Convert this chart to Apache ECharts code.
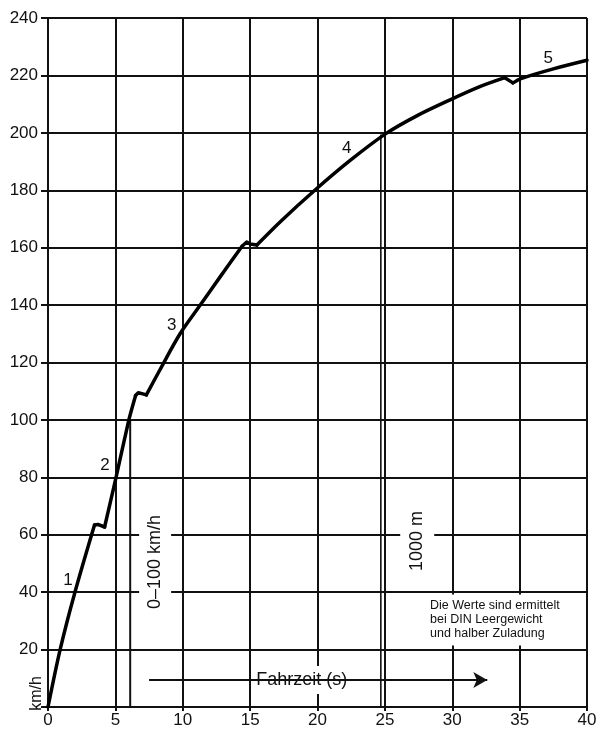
<!DOCTYPE html>
<html>
<head>
<meta charset="utf-8"/>
<title>Fahrzeit</title>
<script src="https://cdn.jsdelivr.net/npm/echarts@6/dist/echarts.min.js"></script>
<style>
    html, body { margin: 0; padding: 0; background: #fff; }
    #main { width: 601px; height: 732px; }
</style>
</head>
<body>
<div id="main"></div>
<script type="text/javascript">
// Beschleunigungskurve je Gang, [Zeit (s), Geschwindigkeit (km/h)]
const gear1 = [[0, 0], [0.9, 20], [2.0, 40], [3.45, 63.4]]
const shift1 = [[3.45, 63.4], [3.7, 63.6], [4.2, 62.7]]
const gear2 = [[4.2, 62.7], [5.05, 80], [6.0, 100], [6.5, 108.5]]
const shift2 = [[6.5, 108.5], [6.7, 109.5], [7.3, 108.7]]
const gear3 = [[7.3, 108.7], [8.3, 117.4], [9.8, 130], [11.3, 140], [12.8, 150], [14.4, 160.5]]
const shift3 = [[14.4, 160.5], [14.75, 162], [15.0, 161.3], [15.5, 160.9]]
const gear4 = [[15.5, 160.9], [17.3, 169.3], [19.8, 180], [22.4, 190.3], [25.1, 199.8], [27.4, 206], [29.8, 211.4], [32.0, 216], [33.9, 219.2]]
const shift4 = [[33.9, 219.2], [34.5, 217.4]]
const gear5 = [[34.5, 217.4], [35.1, 218.9], [37.5, 222.3], [40, 225.3]]

const xTicks = [0, 5, 10, 15, 20, 25, 30, 35, 40]
const yTicks = [0, 20, 40, 60, 80, 100, 120, 140, 160, 180, 200, 220, 240]

// 0-100 km/h und 1000 m Markierungen
const line100 = [[6.1, 0], [6.1, 100]]
const line1000 = [[24.7, 0], [24.7, 199.4]]

// Gangnummern an der Kurve
const gearNames = ['1', '2', '3', '4', '5']
const gearX = [1.48, 4.23, 9.18, 22.17, 37.13]
const gearY = [44.2, 84.3, 133, 194.6, 226]

const arrowFrom = [7.5, 9.4]
const arrowTo = [32.6, 9.4]

const noteText = 'Die Werte sind ermittelt\nbei DIN Leergewicht\nund halber Zuladung'

const font = 'Liberation Sans'
const ink = '#111'

const myChart = echarts.init(document.getElementById('main'))

const gears = gearNames.map((n, i) => ({ value: [gearX[i], gearY[i]], label: { formatter: n } }))

function curvePart(data, smooth) {
    return {
        type: 'line',
        data: data,
        symbol: 'none',
        smooth: smooth,
        z: 7,
        lineStyle: { color: '#000', width: 3.5, join: 'round', cap: 'round' }
    }
}

const option = {
    backgroundColor: '#fff',
    animation: false,
    grid: { left: 48, right: 14, top: 18, bottom: 25 },
    xAxis: {
        type: 'value',
        min: xTicks[0],
        max: xTicks[xTicks.length - 1],
        interval: 5,
        axisLine: { show: true, lineStyle: { color: ink, width: 2 } },
        axisTick: { show: true, length: 4, lineStyle: { color: ink, width: 2 } },
        axisLabel: { color: ink, fontFamily: font, fontSize: 17, margin: 5 },
        splitLine: { show: true, lineStyle: { color: ink, width: 2 } }
    },
    yAxis: {
        type: 'value',
        min: yTicks[0],
        max: yTicks[yTicks.length - 1],
        interval: 20,
        axisLine: { show: true, lineStyle: { color: ink, width: 2 } },
        axisTick: { show: true, length: 7, lineStyle: { color: ink, width: 2 } },
        // bei 0 steht "km/h" statt einer Zahl
        axisLabel: { color: ink, fontFamily: font, fontSize: 17, margin: 10, formatter: v => (v === 0 ? '' : v) },
        splitLine: { show: true, lineStyle: { color: ink, width: 2 } }
    },
    series: [
        // Textfelder zuerst, damit die Linien darueber liegen
        {
            type: 'scatter',
            symbolSize: 0,
            clip: false,
            z: 3,
            silent: true,
            itemStyle: { opacity: 1 },
            label: { show: true, position: 'inside', color: ink, fontFamily: font },
            data: [
                {
                    value: [7.95, 50.5],
                    label: { formatter: '0–100 km/h', rotate: 90, fontSize: 18, backgroundColor: '#fff', padding: [7, 2] }
                },
                {
                    value: [27.4, 57.8],
                    label: { formatter: '1000 m', rotate: 90, fontSize: 18, backgroundColor: '#fff', padding: [8, 2] }
                },
                {
                    value: [18.83, 9.4],
                    label: { formatter: 'Fahrzeit (s)', fontSize: 18, backgroundColor: '#fff', padding: [5, 3] }
                },
                {
                    value: [-0.85, 4.7],
                    label: { formatter: 'km/h', rotate: 90, fontSize: 16 }
                },
                {
                    value: [28.35, 30.3],
                    label: {
                        formatter: noteText, align: 'left', fontSize: 12.5, lineHeight: 14,
                        backgroundColor: '#fff', padding: [5, 4, 4, 0]
                    }
                }
            ]
        },
        {
            type: 'scatter',
            symbolSize: 0,
            z: 4,
            silent: true,
            itemStyle: { opacity: 1 },
            label: { show: true, position: 'inside', color: ink, fontFamily: font, fontSize: 17 },
            data: gears
        },
        {
            type: 'line',
            data: line100,
            symbol: 'none',
            z: 6,
            lineStyle: { color: ink, width: 2 }
        },
        {
            type: 'line',
            data: line1000,
            symbol: 'none',
            z: 6,
            lineStyle: { color: ink, width: 1.6 },
            markLine: {
                silent: true,
                symbol: ['none', 'arrow'],
                symbolSize: [12, 14],
                label: { show: false },
                lineStyle: { color: ink, width: 2, type: 'solid' },
                data: [[{ coord: arrowFrom }, { coord: arrowTo }]]
            }
        },
        curvePart(gear1, 0.3),
        curvePart(shift1, false),
        curvePart(gear2, 0.2),
        curvePart(shift2, false),
        curvePart(gear3, 0.3),
        curvePart(shift3, false),
        curvePart(gear4, 0.3),
        curvePart(shift4, false),
        curvePart(gear5, 0.3)
    ]
}

myChart.setOption(option)
</script>
</body>
</html>
